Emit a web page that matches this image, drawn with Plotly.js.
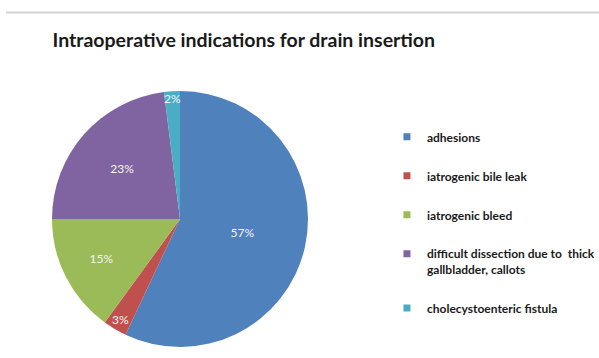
<!DOCTYPE html>
<html>
<head>
<meta charset="utf-8">
<script src="https://cdn.plot.ly/plotly-3.0.1.min.js"></script>
<style>html,body{margin:0;padding:0;background:#fff;overflow:hidden;width:599px;height:358px;}#chart{width:599px;height:358px;overflow:hidden;}</style>
</head>
<body>
<div id="chart"></div>
<script>
const categories = [
  "adhesions",
  "iatrogenic bile leak",
  "iatrogenic bleed",
  "difficult dissection due to  thick<br>gallbladder, callots",
  "cholecystoenteric fistula"
];
const percentValues = [57, 3, 15, 23, 2];
const sliceColors = ["#4F81BD", "#C0504D", "#9BBB59", "#8064A2", "#4BACC6"];
const chartTitle = "Intraoperative indications for drain insertion";

const pieTrace = {
  type: "pie",
  labels: categories,
  values: percentValues,
  sort: false,
  direction: "clockwise",
  rotation: 0,
  marker: {colors: sliceColors, line: {width: 0}},
  texttemplate: "%{value}%",
  textposition: "inside",
  insidetextorientation: "horizontal",
  textfont: {family: "Lato, sans-serif", size: 12, color: "#f4f4f4"},
  hoverinfo: "label+percent",
  showlegend: false,
  domain: {x: [0.0868, 0.5142], y: [0.0307, 0.7458]}
};

const legendTraces = categories.map((c, i) => ({
  type: "scatter",
  mode: "markers",
  x: [null], y: [null],
  name: c,
  legendgroup: "g" + i,
  marker: {symbol: "square", size: 7, color: sliceColors[i]},
  showlegend: true,
  hoverinfo: "skip"
}));

const layout = {
  width: 599, height: 358,
  margin: {l: 0, r: 0, t: 0, b: 0, autoexpand: false},
  paper_bgcolor: "#ffffff",
  plot_bgcolor: "#ffffff",
  uniformtext: {mode: "show", minsize: 12},
  title: {
    text: "<b>" + chartTitle + "</b>",
    font: {family: "Lato, sans-serif", size: 19.5, color: "#1a1a1a"},
    x: 0.407, xanchor: "center",
    y: 0.888, yanchor: "middle"
  },
  xaxis: {visible: false},
  yaxis: {visible: false},
  legend: {
    x: 0.646, xanchor: "left",
    y: 0.658, yanchor: "top",
    tracegroupgap: 20,
    traceorder: "grouped",
    valign: "top",
    entrywidth: 150,
    entrywidthmode: "pixels",
    font: {family: "Lato, sans-serif", size: 12, color: "#1a1a1a", weight: "bold"},
    bgcolor: "rgba(0,0,0,0)"
  },
  shapes: [{
    type: "line", xref: "paper", yref: "paper",
    x0: 0.01, x1: 1, y0: 1 - 12.5/358, y1: 1 - 12.5/358,
    line: {color: "#d4d4d4", width: 2}
  }]
};

Plotly.newPlot("chart", [pieTrace].concat(legendTraces), layout, {displayModeBar: false, staticPlot: true});
</script>
</body>
</html>
